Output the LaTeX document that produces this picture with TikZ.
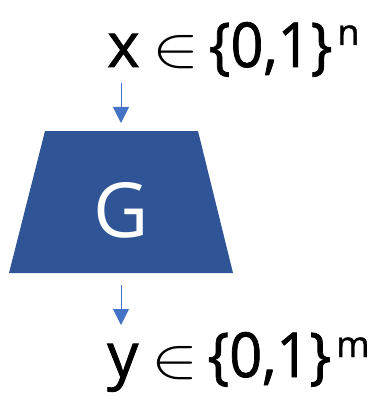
\documentclass[tikz,border=0pt]{standalone}
\usepackage{fontspec}
\setmainfont{Open Sans}
\newfontfamily\heavyfont{Open Sans}[FakeBold=1.2]
\usetikzlibrary{arrows.meta}
\definecolor{gatefill}{HTML}{2F5597}
\definecolor{arrowblue}{HTML}{4472C4}
\newcommand{\bigin}{\resizebox{47pt}{31pt}{$\in$}}
\newcommand{\bigfont}{\heavyfont\fontsize{62}{62}\selectfont}
\newcommand{\supfont}{\heavyfont\fontsize{36}{36}\selectfont}
\newcommand{\setpart}[1]{\scalebox{0.93}[1]{\bigfont #1}}
\tikzset{
  gatebox/.style={fill=gatefill, draw=none},
  flowarrow/.style={draw=arrowblue, line width=1pt, -{Triangle[width=16pt,length=16pt]}},
  bigtext/.style={inner sep=0pt, anchor=base west, font=\bigfont}
}
\begin{document}
\begin{tikzpicture}[x=1pt,y=-1pt]
\useasboundingbox (0,0) rectangle (382,401);
\coordinate (gtl) at (45,131);
\coordinate (gtr) at (198,131);
\coordinate (gbr) at (233,273);
\coordinate (gbl) at (9,273);
\coordinate (gtop) at (121,131);
\coordinate (gbot) at (121,273);
\fill[gatebox] (gtl) -- (gtr) -- (gbr) -- (gbl) -- cycle;
\node[inner sep=0pt, text=white, font=\fontsize{76}{76}\selectfont] (glabel) at (121,210) {G};
\node[bigtext] (xin) at (107,67) {x\hspace{13pt}\bigin\hspace{9pt}\setpart{\{0,1\}}\hspace{5pt}\raisebox{22pt}{\supfont n}};
\node[bigtext] (yout) at (107,377) {y\hspace{13pt}\bigin\hspace{9pt}\setpart{\{0,1\}}\hspace{5pt}\raisebox{20pt}{\supfont m}};
\coordinate (a1s) at (121,83);
\coordinate (a2s) at (121,285);
\coordinate (a2e) at (121,325);
\draw[flowarrow, shorten >=8pt] (a1s) -- (gtop);
\draw[flowarrow] (a2s) -- (a2e);
\end{tikzpicture}
\end{document}
